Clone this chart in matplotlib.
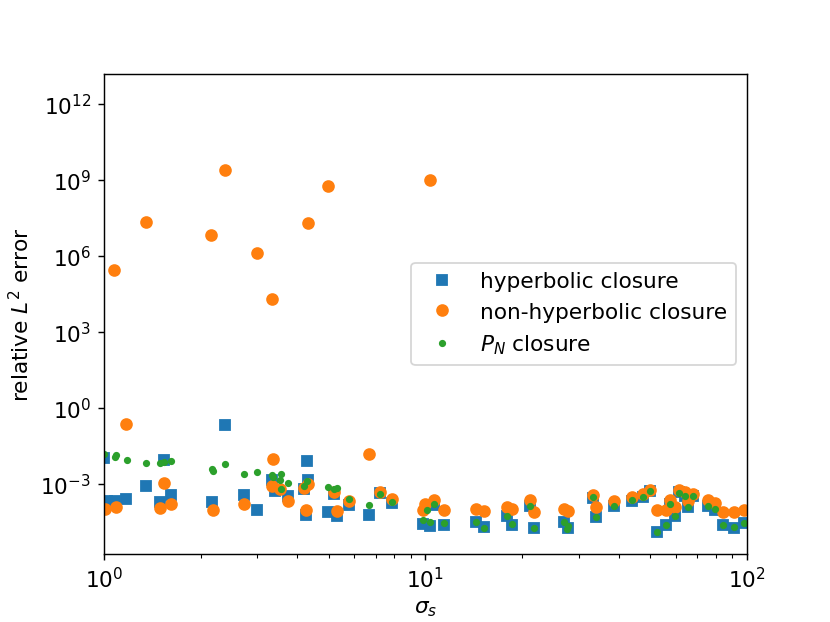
import numpy as np
import matplotlib
matplotlib.use('Agg')
import matplotlib.pyplot as plt

# sigma_s values and log10 of the relative L2 error
hyp_sigma = [1.0, 1.02, 1.08, 1.175, 1.355, 1.5, 1.535, 1.62, 2.17, 2.375,
             2.73, 3.0, 3.33, 3.4, 3.73, 4.2, 4.26, 4.28, 4.3, 4.99,
             5.18, 5.3, 5.77, 6.68, 7.24, 7.87, 9.86, 10.33, 10.6, 11.4,
             14.4, 15.2, 17.9, 18.6, 21.1, 21.8, 26.9, 27.7, 33.2, 33.9,
             38.5, 44.0, 47.5, 49.8, 52.3, 56.1, 57.4, 59.8, 61.3, 64.3,
             65.4, 67.9, 75.6, 79.7, 84.2, 90.8, 97.6]
hyp_logerr = [-1.97, -3.69, -3.66, -3.58, -3.07, -3.73, -2.04, -3.42, -3.71, -0.67,
              -3.45, -4.03, -2.83, -3.29, -3.49, -3.2, -4.21, -2.1, -2.86, -4.12,
              -3.4, -4.28, -3.82, -4.21, -3.36, -3.75, -4.58, -4.67, -3.82, -4.61,
              -4.52, -4.7, -4.25, -4.61, -3.86, -4.74, -4.52, -4.74, -3.55, -4.3,
              -3.88, -3.66, -3.5, -3.29, -4.91, -4.61, -3.78, -4.28, -3.33, -3.49,
              -3.91, -3.47, -3.88, -4.03, -4.63, -4.74, -4.54]

nonhyp_sigma = [1.01, 1.076, 1.09, 1.175, 1.355, 1.5, 1.535, 1.62, 2.16, 2.18,
                2.375, 2.73, 3.0, 3.33, 3.33, 3.37, 3.54, 3.73, 4.2, 4.26,
                4.3, 4.3, 4.99, 5.18, 5.3, 5.77, 6.68, 7.24, 7.87, 9.86,
                9.97, 10.33, 10.6, 11.4, 14.4, 15.2, 17.9, 18.6, 21.1, 21.8,
                26.9, 27.7, 33.2, 33.9, 38.5, 44.0, 47.5, 49.8, 52.3, 56.1,
                57.4, 59.8, 61.3, 64.3, 65.4, 67.9, 75.6, 79.7, 84.2, 90.8, 97.6]
nonhyp_logerr = [-3.98, 5.47, -3.91, -0.62, 7.35, -3.97, -2.98, -3.79, 6.83, -4.03,
                 9.41, -3.78, 6.13, 4.30, -3.07, -2.01, -3.2, -3.69, -3.16, -4.04,
                 -3.0, 7.32, 8.76, -3.33, -4.08, -3.69, -1.80, -3.32, -3.58, -4.04,
                 -3.78, 9.0, -3.62, -4.05, -4.01, -4.08, -3.91, -4.01, -3.65, -4.09,
                 -3.99, -4.07, -3.42, -3.92, -3.66, -3.51, -3.4, -3.23, -4.04, -4.05,
                 -3.62, -3.91, -3.25, -3.33, -3.69, -3.38, -3.65, -3.75, -4.09, -4.09, -4.05]

pn_sigma = [1.0, 1.08, 1.09, 1.177, 1.355, 1.5, 1.535, 1.62, 2.17, 2.18,
            2.375, 2.73, 3.0, 3.33, 3.37, 3.55, 3.54, 3.73, 3.55, 4.2,
            4.28, 4.99, 5.18, 5.3, 5.77, 6.68, 7.24, 7.87, 9.86, 10.1,
            10.33, 10.6, 11.4, 14.4, 15.2, 17.9, 18.6, 21.1, 21.8, 26.9,
            27.7, 27.5, 33.2, 33.9, 38.5, 44.0, 47.5, 49.8, 52.3, 56.1,
            57.4, 59.8, 61.3, 64.3, 65.4, 67.9, 75.6, 79.7, 84.2, 90.8, 97.6]
pn_logerr = [-1.8, -1.93, -1.87, -2.07, -2.16, -2.17, -2.13, -2.09, -2.41, -2.48,
             -2.23, -2.62, -2.54, -2.63, -2.74, -2.61, -2.83, -2.96, -3.19, -3.07,
             -2.87, -3.12, -3.19, -3.16, -3.58, -3.85, -3.38, -3.7, -4.44, -4.04,
             -4.5, -3.81, -4.54, -4.52, -4.73, -4.25, -4.6, -3.86, -4.74, -4.52,
             -4.65, -4.8, -3.5, -4.3, -3.88, -3.65, -3.5, -3.29, -4.91, -4.61,
             -3.78, -4.28, -3.35, -3.47, -3.91, -3.47, -3.87, -4.01, -4.63, -4.72, -4.56]

plt.rcParams['font.size'] = 12

fig = plt.figure(figsize=(6.4, 4.8))
plt.plot(hyp_sigma, 10.0 ** np.array(hyp_logerr), 's', label='hyperbolic closure')
plt.plot(nonhyp_sigma, 10.0 ** np.array(nonhyp_logerr), 'o', label='non-hyperbolic closure')
plt.plot(pn_sigma, 10.0 ** np.array(pn_logerr), '.', label=r'$P_N$ closure')
plt.xscale('log')
plt.yscale('log')
plt.xlim(1, 100)
plt.ylim(10 ** -5.75, 10 ** 13.19)
plt.xlabel(r'$\sigma_s$')
plt.ylabel(r'relative $L^2$ error')
plt.legend(loc='center right')
plt.savefig('out.png', dpi=129.7)
